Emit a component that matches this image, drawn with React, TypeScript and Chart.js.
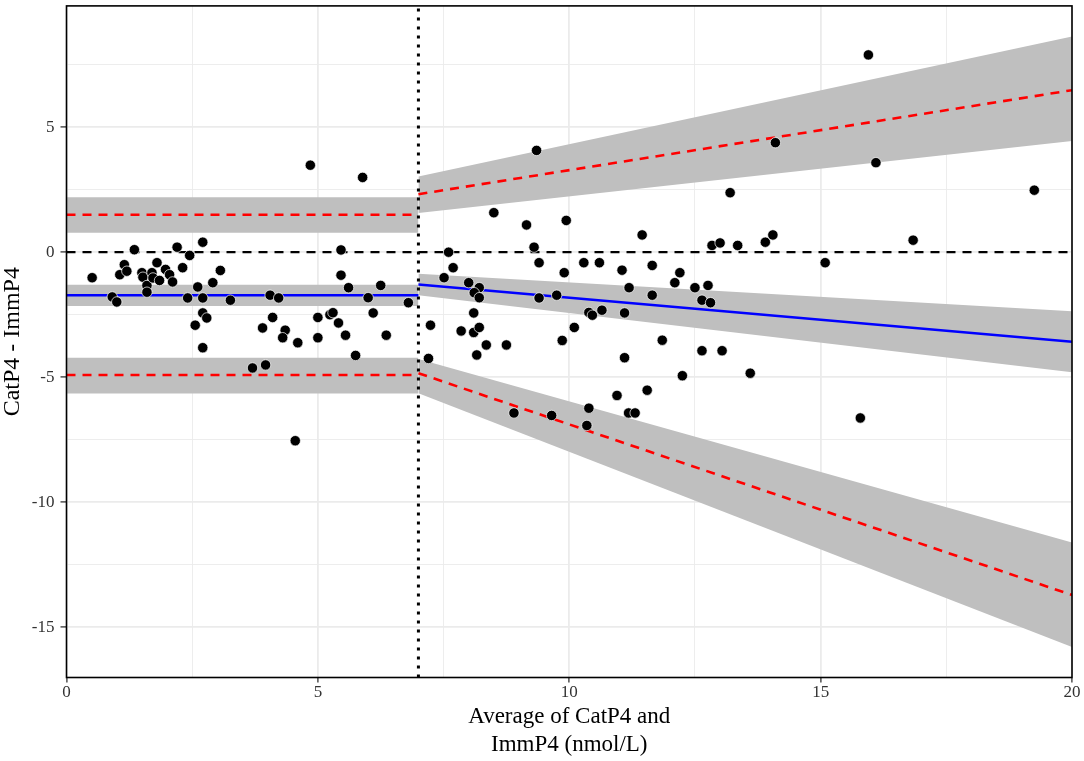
import React, { useEffect, useRef } from "react";
import { Chart, registerables } from "chart.js";

Chart.register(...registerables);

// ---- data ----
const pointX = [
  0.51, 0.91, 1.0, 1.06, 1.15, 1.2, 1.35, 1.5, 1.52, 1.6, 1.6, 1.7, 1.72, 1.8, 1.85, 1.97, 2.05, 2.11, 2.2, 2.31,
  2.45, 2.41, 2.56, 2.61, 2.71, 2.71, 2.71, 2.79, 2.71, 2.91, 3.06, 3.26, 3.7, 3.96, 3.9, 4.05, 4.22, 4.1, 4.35, 4.3,
  4.6, 4.55, 4.85, 5.0, 5.0, 5.24, 5.3, 5.41, 5.46, 5.46, 5.55, 5.61, 5.75, 5.89, 6.0, 6.1, 6.25, 6.36, 6.8,
  7.24, 7.2, 7.51, 7.6, 7.69, 8.0, 8.21, 8.11, 8.21, 8.1, 7.85, 8.1, 8.21, 8.35, 8.16, 8.75, 8.9, 8.5, 9.15, 9.3,
  9.35, 9.4, 9.4, 9.75, 9.9, 9.94, 9.86, 10.1, 9.65, 10.29, 10.6, 10.39, 10.46, 10.65, 10.39, 10.35, 10.95, 11.05, 11.1, 11.1,
  11.19, 11.18, 11.31, 11.45, 11.55, 11.65, 11.65, 11.85, 12.1, 12.2, 12.25, 12.5, 12.64, 12.81, 12.76, 12.64, 13.04, 12.84, 13.0, 13.2,
  13.35, 13.6, 13.9, 14.05, 14.1, 15.09, 15.79, 15.95, 16.1, 16.84, 19.25,
];
const pointY = [
  -1.02, -1.79, -1.99, -0.9, -0.5, -0.76, 0.1, -0.82, -1.0, -1.33, -1.6, -0.82, -1.03, -0.42, -1.13, -0.69, -0.9, -1.19, 0.2, -0.62,
  -0.13, -1.83, -2.92, -1.39, 0.4, -1.83, -2.43, -2.63, -3.82, -1.22, -0.73, -1.92, -4.63, -4.51, -3.03, -1.72, -1.83, -2.61, -3.12, -3.42,
  -3.62, -7.54, 3.48, -2.61, -3.42, -2.5, -2.42, -2.83, 0.09, -0.92, -3.32, -1.42, -4.13, 2.99, -1.82, -2.43, -1.33, -3.32, -2.02,
  -2.92, -4.25, -1.02, 0.0, -0.62, -1.22, -1.42, -1.62, -1.82, -2.43, -3.15, -3.21, -3.01, -3.71, -4.11, -3.71, -6.43, 1.58, 1.09, 0.2,
  4.07, -0.42, -1.83, -1.72, -0.82, 1.27, -3.53, -3.01, -6.53, -0.42, -0.42, -2.41, -2.52, -2.32, -6.24, -6.93, -5.73, -0.72, -2.43, -4.22,
  -1.42, -6.43, -6.43, 0.69, -5.52, -0.53, -1.72, -3.52, -1.22, -0.82, -4.94, -1.42, -1.92, -2.02, -1.33, -3.94, -3.94, 0.27, 0.37, 2.38,
  0.27, -4.84, 0.4, 0.69, 4.38, -0.42, -6.63, 7.89, 3.58, 0.48, 2.48,
];

const splitX = 7;
const leftX = [0, 7];
const rightX = [7, 20];

const leftMeanY = [-1.72, -1.72];
const leftUpperLoaY = [1.5, 1.5];
const leftLowerLoaY = [-4.91, -4.91];
const leftMeanBandHi = [-1.3, -1.3];
const leftMeanBandLo = [-2.15, -2.15];
const leftUpperBandHi = [2.2, 2.2];
const leftUpperBandLo = [0.78, 0.78];
const leftLowerBandHi = [-4.22, -4.22];
const leftLowerBandLo = [-5.65, -5.65];

const rightMeanY = [-1.29, -3.58];
const rightUpperLoaY = [2.32, 6.48];
const rightLowerLoaY = [-4.84, -13.71];
const rightMeanBandHi = [-0.86, -2.36];
const rightMeanBandLo = [-1.72, -4.8];
const rightUpperBandHi = [3.03, 8.63];
const rightUpperBandLo = [1.57, 4.45];
const rightLowerBandHi = [-4.27, -11.61];
const rightLowerBandLo = [-5.64, -15.79];

const xMin = 0;
const xMax = 20;
const yMin = -17.01;
const yMax = 9.85;
const xTickValues = [0, 2.5, 5, 7.5, 10, 12.5, 15, 17.5, 20];
const yTickValues = [-15, -12.5, -10, -7.5, -5, -2.5, 0, 2.5, 5, 7.5];
const majorStep = 5;

const xTitle = ["Average of CatP4 and", "ImmP4 (nmol/L)"];
const yTitle = "CatP4 - ImmP4";

// ---- helpers ----
const seg = (xs: number[], ys: number[]) => xs.map((x, i) => ({ x, y: ys[i] }));
const isMajor = (v: number) => Math.abs(v / majorStep - Math.round(v / majorStep)) < 1e-9;

const FONT = '"Liberation Serif", "Times New Roman", serif';
const BAND = "#bfbfbf";

function band(hi: number[], lo: number[], xs: number[]) {
  return [
    {
      type: "line" as const,
      data: seg(xs, hi),
      borderWidth: 0,
      borderColor: "rgba(0,0,0,0)",
      backgroundColor: BAND,
      pointRadius: 0,
      fill: "+1",
      order: 3,
      showLine: true,
    },
    {
      type: "line" as const,
      data: seg(xs, lo),
      borderWidth: 0,
      borderColor: "rgba(0,0,0,0)",
      backgroundColor: BAND,
      pointRadius: 0,
      fill: false,
      order: 3,
      showLine: true,
    },
  ];
}

function line(xs: number[], ys: number[], color: string, width: number, dash: number[]) {
  return {
    type: "line" as const,
    data: seg(xs, ys),
    borderColor: color,
    borderWidth: width,
    borderDash: dash,
    borderCapStyle: "butt" as const,
    pointRadius: 0,
    fill: false,
    order: 1,
    showLine: true,
  };
}

const panelBorder = {
  id: "panelBorder",
  afterDraw(chart: any) {
    const { ctx, chartArea } = chart;
    ctx.save();
    ctx.strokeStyle = "#000";
    ctx.lineWidth = 1.6;
    ctx.strokeRect(chartArea.left, chartArea.top, chartArea.right - chartArea.left, chartArea.bottom - chartArea.top);
    ctx.restore();
  },
};

export default function App() {
  const ref = useRef<HTMLCanvasElement | null>(null);

  useEffect(() => {
    if (!ref.current) return;
    const datasets: any[] = [
      {
        type: "scatter",
        data: seg(pointX, pointY),
        backgroundColor: "#000",
        borderColor: "#fff",
        borderWidth: 0.7,
        pointRadius: 5.2,
        showLine: false,
        order: 0,
      },
      line(leftX, leftMeanY, "#0000ff", 2.6, []),
      line(rightX, rightMeanY, "#0000ff", 2.6, []),
      line(leftX, leftUpperLoaY, "#ff0000", 2.6, [9, 7]),
      line(leftX, leftLowerLoaY, "#ff0000", 2.6, [9, 7]),
      line(rightX, rightUpperLoaY, "#ff0000", 2.6, [9, 7]),
      line(rightX, rightLowerLoaY, "#ff0000", 2.6, [9, 7]),
      line([xMin, xMax], [0, 0], "#000", 2.2, [9, 7]),
      line([splitX, splitX], [yMin, yMax], "#000", 3, [3, 6]),
      ...band(leftUpperBandHi, leftUpperBandLo, leftX),
      ...band(leftMeanBandHi, leftMeanBandLo, leftX),
      ...band(leftLowerBandHi, leftLowerBandLo, leftX),
      ...band(rightUpperBandHi, rightUpperBandLo, rightX),
      ...band(rightMeanBandHi, rightMeanBandLo, rightX),
      ...band(rightLowerBandHi, rightLowerBandLo, rightX),
    ];

    const chart = new Chart(ref.current, {
      type: "scatter",
      data: { datasets },
      plugins: [panelBorder],
      options: {
        animation: false,
        responsive: false,
        events: [],
        layout: { padding: { top: 2.7, right: 12, left: 0, bottom: 0 } },
        plugins: {
          legend: { display: false },
          tooltip: { enabled: false },
        },
        scales: {
          x: {
            type: "linear",
            position: "bottom",
            min: xMin,
            max: xMax,
            afterBuildTicks: (scale: any) => {
              scale.ticks = xTickValues.map((v) => ({ value: v }));
            },
            afterFit: (scale: any) => {
              scale.height = 83.5;
              scale.paddingLeft = 0;
              scale.paddingRight = 0;
            },
            border: { display: false },
            grid: {
              color: "#ebebeb",
              lineWidth: (c: any) => (isMajor(c.tick.value) ? 1.8 : 0.9),
              drawTicks: true,
              tickLength: 5,
              tickWidth: 1.3,
              tickColor: (c: any) => (isMajor(c.tick.value) ? "#333" : "rgba(0,0,0,0)"),
            },
            ticks: {
              autoSkip: false,
              maxRotation: 0,
              padding: 0,
              color: "#333",
              font: { family: FONT, size: 17 },
              callback: (v: any) => (isMajor(Number(v)) ? String(v) : ""),
            },
            title: {
              display: true,
              text: xTitle,
              color: "#000",
              font: { family: FONT, size: 23, lineHeight: 1.2 },
              padding: { top: 0, bottom: 2.6 },
            },
          },
          y: {
            type: "linear",
            position: "left",
            min: yMin,
            max: yMax,
            afterBuildTicks: (scale: any) => {
              scale.ticks = yTickValues.map((v) => ({ value: v }));
            },
            afterFit: (scale: any) => {
              scale.width = 66.5;
              scale.paddingTop = 0;
              scale.paddingBottom = 0;
            },
            border: { display: false },
            grid: {
              color: "#ebebeb",
              lineWidth: (c: any) => (isMajor(c.tick.value) ? 1.8 : 0.9),
              drawTicks: true,
              tickLength: 6,
              tickWidth: 1.3,
              tickColor: (c: any) => (isMajor(c.tick.value) ? "#333" : "rgba(0,0,0,0)"),
            },
            ticks: {
              autoSkip: false,
              padding: 6,
              color: "#333",
              font: { family: FONT, size: 17 },
              callback: (v: any) => (isMajor(Number(v)) ? String(v) : ""),
            },
            title: {
              display: true,
              text: yTitle,
              color: "#000",
              font: { family: FONT, size: 24, lineHeight: 1 },
              padding: { top: 1, bottom: 0 },
            },
          },
        },
      } as any,
    });
    return () => chart.destroy();
  }, []);

  return (
    <div style={{ position: "fixed", left: 0, top: 0, width: 1084, height: 761, background: "#fff" }}>
      <canvas ref={ref} width={1084} height={761} style={{ width: 1084, height: 761, display: "block" }} />
    </div>
  );
}
